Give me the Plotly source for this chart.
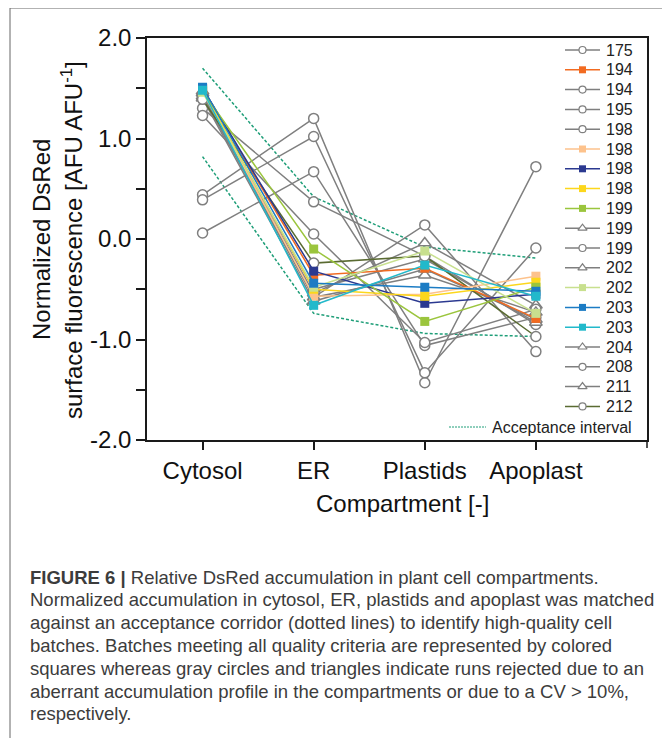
import plotly.graph_objects as go

# ---------------- data ----------------
categories = ["Cytosol", "ER", "Plastids", "Apoplast"]

series_labels = ["175", "194", "194", "195", "198", "198", "198", "198", "199", "199",
                 "199", "202", "202", "203", "203", "204", "208", "211", "212"]
series_symbols = ["circle", "square", "circle", "circle", "circle", "square", "square", "square",
                  "square", "triangle", "circle", "triangle", "square", "square", "square",
                  "triangle", "circle", "triangle", "circle"]
series_colors = ["#7f7f7f", "#f26b21", "#7f7f7f", "#7f7f7f", "#7f7f7f", "#fdc28c", "#2b3990",
                 "#fcd71c", "#9bc53d", "#7f7f7f", "#7f7f7f", "#7f7f7f", "#c8e08e", "#1c7cc4",
                 "#22b9cb", "#7f7f7f", "#7f7f7f", "#7f7f7f", "#5a6b32"]

b175 = [1.30, 0.37, -0.17, -0.85]
b194_sq = [1.50, -0.36, -0.29, -0.79]
b194_c = [0.44, 1.20, -1.43, 0.72]
b195 = [0.39, 1.02, -1.33, -0.09]
b198_c = [0.06, 0.67, -1.06, -0.78]
b198_lo = [1.48, -0.57, -0.55, -0.37]
b198_db = [1.50, -0.32, -0.64, -0.55]
b198_y = [1.49, -0.50, -0.57, -0.43]
b199_sq = [1.47, -0.10, -0.82, -0.48]
b199_t = [1.45, -0.54, -0.04, -0.66]
b199_c = [1.23, 0.05, -1.03, -0.70]
b202_t = [1.42, -0.58, -0.36, -0.73]
b202_sq = [1.46, -0.48, -0.12, -0.74]
b203_b = [1.51, -0.44, -0.48, -0.52]
b203_c = [1.48, -0.66, -0.26, -0.57]
b204 = [1.47, -0.50, -0.20, -0.83]
b208 = [1.43, -0.58, 0.14, -1.12]
b211 = [1.40, -0.62, -0.30, -0.80]
b212 = [1.39, -0.24, -0.17, -0.97]

series_values = [b175, b194_sq, b194_c, b195, b198_c, b198_lo, b198_db, b198_y, b199_sq,
                 b199_t, b199_c, b202_t, b202_sq, b203_b, b203_c, b204, b208, b211, b212]

accept_upper = [1.70, 0.42, -0.08, -0.19]
accept_lower = [0.82, -0.74, -0.94, -0.97]
accept_label = "Acceptance interval"

y_ticks = [2.0, 1.0, 0.0, -1.0, -2.0]

caption_lines = [
    "<b>FIGURE 6 |</b> Relative DsRed accumulation in plant cell compartments.",
    "Normalized accumulation in cytosol, ER, plastids and apoplast was matched",
    "against an acceptance corridor (dotted lines) to identify high-quality cell",
    "batches. Batches meeting all quality criteria are represented by colored",
    "squares whereas gray circles and triangles indicate runs rejected due to an",
    "aberrant accumulation profile in the compartments or due to a CV > 10%,",
    "respectively.",
]

# ---------------- layout constants (reference px) ----------------
OFF = 8                       # page body margin of the html page
W, H = 670 - OFF, 738 - OFF
PL, PR, PT, PB = 147, 647, 38, 440
GRAY = "#7f7f7f"
ACC = "#1e9e78"
FONT = "Liberation Sans, Arial, sans-serif"


def px_x(px):
    return (px - PL) / (PR - PL)


def px_y(py):
    return (PB - py) / (PB - PT)


fig = go.Figure()

# acceptance corridor
fig.add_trace(go.Scatter(x=categories, y=accept_upper, mode="lines",
                         line=dict(color=ACC, width=1.5, dash="3px,2px"), showlegend=False))
fig.add_trace(go.Scatter(x=categories, y=accept_lower, mode="lines",
                         line=dict(color=ACC, width=1.5, dash="3px,2px"), showlegend=False))

order = [i for i, s in enumerate(series_symbols) if s != "square"] + \
        [i for i, s in enumerate(series_symbols) if s == "square"]

for i in order:
    sym = series_symbols[i]
    col = series_colors[i]
    if sym == "square":
        marker = dict(symbol="square", size=9, color=col, line=dict(width=0))
    elif sym == "circle":
        marker = dict(symbol="circle", size=10, color="white", line=dict(color=GRAY, width=1.5))
    else:
        marker = dict(symbol="triangle-up", size=11, color="white", line=dict(color=GRAY, width=1.5))
    fig.add_trace(go.Scatter(x=categories, y=series_values[i], mode="lines+markers",
                             line=dict(color=col, width=1.5), marker=marker,
                             name=series_labels[i], showlegend=False))

# ---------------- manual legend (overlay axes in px) ----------------
row0, rowstep = 50, 19.8
sx0, sx1 = 565, 600
for i, lab in enumerate(series_labels):
    yy = row0 + i * rowstep
    sym = series_symbols[i]
    col = series_colors[i]
    if sym == "square":
        mk = dict(symbol="square", size=7, color=col, line=dict(width=0))
    elif sym == "circle":
        mk = dict(symbol="circle", size=7, color="white", line=dict(color=GRAY, width=1.2))
    else:
        mk = dict(symbol="triangle-up", size=8, color="white", line=dict(color=GRAY, width=1.2))
    fig.add_trace(go.Scatter(x=[sx0, sx1], y=[yy, yy], xaxis="x2", yaxis="y2", mode="lines",
                             line=dict(color=col, width=1.5), showlegend=False, hoverinfo="skip"))
    fig.add_trace(go.Scatter(x=[(sx0 + sx1) / 2], y=[yy], xaxis="x2", yaxis="y2", mode="markers",
                             marker=mk, showlegend=False, hoverinfo="skip"))
    fig.add_annotation(x=sx1 + 4, y=yy, xref="x2", yref="y2", text=lab, showarrow=False,
                       xanchor="left", yanchor="middle", font=dict(size=16, color="#222", family=FONT))

acc_y = 427
fig.add_trace(go.Scatter(x=[449, 486], y=[acc_y, acc_y], xaxis="x2", yaxis="y2", mode="lines",
                         line=dict(color=ACC, width=1, dash="2px,1px"), showlegend=False, hoverinfo="skip"))
fig.add_annotation(x=490, y=acc_y, xref="x2", yref="y2", text=accept_label, showarrow=False,
                   xanchor="left", yanchor="middle", font=dict(size=16, color="#222", family=FONT))

# ---------------- axis titles ----------------
fig.add_annotation(x=px_x(41), y=px_y(240), xref="paper", yref="paper", text="Normalized DsRed",
                   textangle=-90, showarrow=False, xanchor="center", yanchor="middle",
                   font=dict(size=24, color="#111", family=FONT))
fig.add_annotation(x=px_x(72), y=px_y(240), xref="paper", yref="paper",
                   text="surface fluorescence [AFU AFU<sup>-1</sup>]",
                   textangle=-90, showarrow=False, xanchor="center", yanchor="middle",
                   font=dict(size=24, color="#111", family=FONT))
fig.add_annotation(x=px_x(402), y=px_y(503), xref="paper", yref="paper", text="Compartment [-]",
                   showarrow=False, xanchor="center", yanchor="middle",
                   font=dict(size=24, color="#111", family=FONT))

# caption
cap_y0, cap_step = 577, 22.8
for k, line in enumerate(caption_lines):
    fig.add_annotation(x=px_x(28), y=px_y(cap_y0 + k * cap_step), xref="paper", yref="paper",
                       text=line, showarrow=False, xanchor="left", yanchor="middle",
                       font=dict(size=18.5, color="#3c3c3c", family=FONT))

# frame lines + end tick
fig.add_shape(type="line", xref="paper", yref="paper", x0=px_x(10), x1=px_x(672), y0=px_y(8), y1=px_y(8),
              line=dict(color="#666", width=1))
fig.add_shape(type="line", xref="paper", yref="paper", x0=px_x(10), x1=px_x(10), y0=px_y(8), y1=px_y(740),
              line=dict(color="#666", width=1))
fig.add_shape(type="line", xref="paper", yref="paper", x0=1, x1=1, y0=0, y1=px_y(PB + 8),
              line=dict(color="#1a1a1a", width=1.5))

fig.update_layout(
    width=W, height=H,
    margin=dict(l=PL - OFF, r=W - (PR - OFF), t=PT - OFF, b=H - (PB - OFF), pad=0),
    paper_bgcolor="white", plot_bgcolor="white",
    font=dict(family=FONT, color="#111"),
    showlegend=False,
    xaxis=dict(type="category", range=[-0.5, 4.0], showline=True, linecolor="#1a1a1a", linewidth=1.5,
               mirror=True, ticks="outside", ticklen=8, tickwidth=1.5, tickcolor="#1a1a1a",
               showgrid=False, zeroline=False, tickfont=dict(size=24, color="#111", family=FONT)),
    yaxis=dict(range=[-2.0, 2.0], tickvals=y_ticks, ticktext=[f"{v:.1f}" for v in y_ticks],
               showline=True, linecolor="#1a1a1a", linewidth=1.5, mirror=True,
               ticks="outside", ticklen=9, tickwidth=1.5, tickcolor="#1a1a1a",
               minor=dict(dtick=0.5, ticks="outside", ticklen=9, tickwidth=1.5, tickcolor="#1a1a1a"),
               showgrid=False, zeroline=False, tickfont=dict(size=24, color="#111", family=FONT)),
    xaxis2=dict(overlaying="x", anchor="y2", range=[PL, PR], visible=False, fixedrange=True),
    yaxis2=dict(overlaying="y", anchor="x2", range=[PB, PT], visible=False, fixedrange=True),
)

fig.write_html("out.html")
